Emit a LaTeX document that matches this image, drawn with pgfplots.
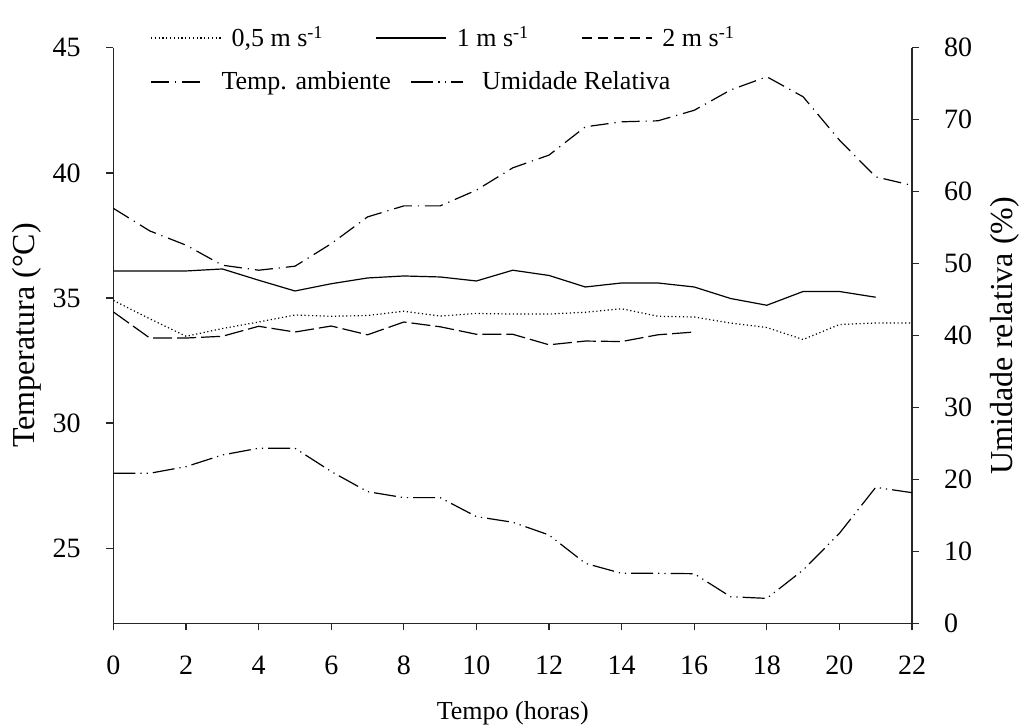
\documentclass[border=0pt]{standalone}
\usepackage{fontspec}
\setmainfont{Liberation Serif}
\usepackage{pgfplots}
\pgfplotsset{compat=1.18}

\pgfplotsset{
  base/.style={
    scale only axis, width=399.25pt, height=287.8pt,
    xmin=0, xmax=22,
    tick align=outside, major tick length=3.5pt,
    axis line style={line width=0.65pt, black!85},
    tick style={line width=0.65pt, black!85},
    /pgf/number format/assume math mode=true,
    tick label style={font=\fontsize{14}{16}\selectfont},
    label style={font=\fontsize{16}{19}\selectfont},
    legend cell align=left,
  },
  s05/.style={black, line width=0.6pt, dash pattern=on 0.6pt off 1.3pt},
  s1/.style={black, line width=0.6pt},
  s2/.style={black, line width=0.6pt, dash pattern=on 9.5pt off 2.5pt},
  sta/.style={black, line width=0.6pt, dash pattern=on 9pt off 3pt on 0.6pt off 3pt},
  sur/.style={black, line width=0.6pt, dash pattern=on 11pt off 2.5pt on 0.6pt off 2.5pt on 0.6pt off 2.5pt},
}

\begin{document}
\begin{tikzpicture}
\begin{axis}[base, name=main,
  ymin=22, ymax=45, ytick={25,30,...,45}, xtick={0,2,...,22},
  axis x line*=bottom, axis y line*=left,
  xlabel={Tempo (horas)}, ylabel={Temperatura (°C)},
  xlabel style={at={(axis description cs:0.5,-0.156)}, anchor=center, font=\fontsize{13}{15}\selectfont},
  ylabel style={at={(axis description cs:-0.1083,0.5)}, anchor=center},
  yticklabel style={anchor=east, inner sep=0pt, xshift=-12.75pt},
  xticklabel style={anchor=base, inner sep=0pt, yshift=-21.85pt},
  legend columns=3,
  legend style={draw=none, fill=none, at={(axis description cs:0.0457,1.0169)}, anchor=west,
    inner sep=0pt, font=\fontsize{13}{15}\selectfont,
    /tikz/every odd column/.append style={column sep=3pt},
    /tikz/every even column/.append style={column sep=24pt}},
  legend image code/.code={\draw[#1] (0pt,0pt) -- (35pt,0pt);},
]
\addplot[s05] coordinates {
  (0,34.90) (1,34.17) (2,33.47) (3,33.78) (4,34.04) (5,34.32) (6,34.27) (7,34.30)
  (8,34.47) (9,34.28) (10,34.38) (11,34.36) (12,34.36) (13,34.43) (14,34.57) (15,34.27)
  (16,34.24) (17,34.00) (18,33.82) (19,33.34) (20,33.94) (21,34.00) (22,34.00)};
\addlegendentry{0,5 m s\textsuperscript{-1}}
\addplot[s1] coordinates {
  (0,36.08) (1,36.08) (2,36.08) (3,36.16) (4,35.71) (5,35.28) (6,35.57) (7,35.80)
  (8,35.88) (9,35.84) (10,35.68) (11,36.11) (12,35.90) (13,35.44) (14,35.60) (15,35.60)
  (16,35.44) (17,34.98) (18,34.71) (19,35.26) (20,35.26) (21,35.03)};
\addlegendentry{1 m s\textsuperscript{-1}}
\addplot[s2, legend image post style={dash pattern=on 5pt off 3pt}] coordinates {
  (0,34.44) (1,33.40) (2,33.40) (3,33.47) (4,33.87) (5,33.64) (6,33.88) (7,33.53)
  (8,34.04) (9,33.85) (10,33.55) (11,33.55) (12,33.13) (13,33.28) (14,33.26) (15,33.53)
  (16,33.64)};
\addlegendentry{2 m s\textsuperscript{-1}}
% temperatura ambiente
\addplot[sta, forget plot] coordinates {
  (0,38.58) (1,37.68) (2,37.11) (3,36.31) (4,36.11) (5,36.27) (6,37.17) (7,38.24)
  (8,38.68) (9,38.68) (10,39.31) (11,40.20) (12,40.71) (13,41.84) (14,42.04) (15,42.08)
  (16,42.50) (17,43.31) (18,43.84) (19,43.04) (20,41.31) (21,39.84) (22,39.50)};
\coordinate (bl) at (rel axis cs:-0.1421,-0.1767);
\coordinate (tr) at (rel axis cs:1.139,1.0829);
\end{axis}

\begin{axis}[base,
  ymin=0, ymax=80, ytick={0,10,...,80},
  axis y line*=right, axis x line=none,
  ylabel={Umidade relativa (\%)},
  ylabel style={at={(axis description cs:1.1165,0.5)}, anchor=center},
  yticklabel style={anchor=west, inner sep=0pt, xshift=12.35pt},
  legend columns=2,
  legend style={draw=none, fill=none, at={(axis description cs:0.0457,0.9404)}, anchor=west,
    inner sep=0pt, font=\fontsize{13}{15}\selectfont,
    /tikz/every odd column/.append style={column sep=7pt},
    /tikz/every even column/.append style={column sep=8pt}},
  legend image code/.code={\draw[#1] (0pt,0pt) -- (26pt,0pt);},
]
\addlegendimage{sta}
\addlegendentry{Temp. ambiente}
\addplot[sur] coordinates {
  (0,20.86) (1,20.86) (2,21.78) (3,23.40) (4,24.34) (5,24.34) (6,21.10) (7,18.30)
  (8,17.47) (9,17.47) (10,14.83) (11,14.05) (12,12.28) (13,8.34) (14,6.95) (15,6.95)
  (16,6.90) (17,3.70) (18,3.47) (19,7.41) (20,12.51) (21,18.90) (22,18.16)};
\addlegendentry{Umidade Relativa}
\end{axis}
\pgfresetboundingbox
\path[use as bounding box] (bl) rectangle (tr);
\end{tikzpicture}
\end{document}
